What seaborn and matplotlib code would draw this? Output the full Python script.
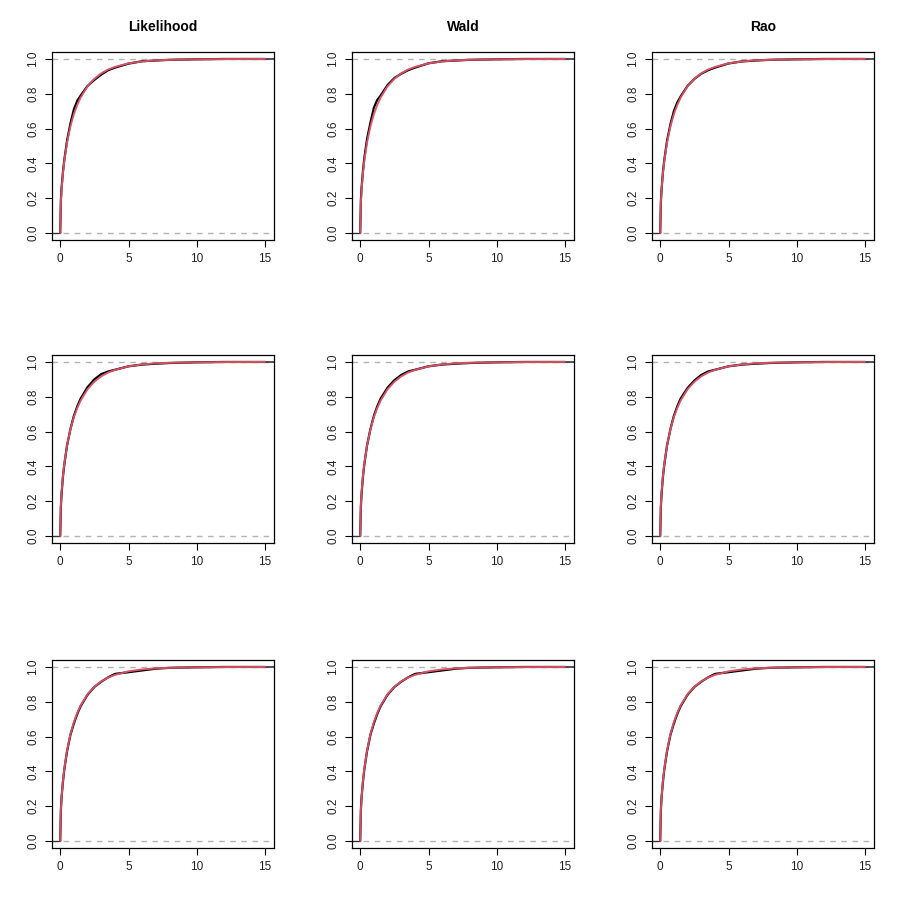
import matplotlib
matplotlib.use("Agg")
import matplotlib.pyplot as plt
import seaborn as sns
import pandas as pd

sns.set_theme(style="white")
plt.rcParams['font.family'] = ['Liberation Sans', 'DejaVu Sans']

titles = ["Likelihood", "Wald", "Rao"]

# theoretical CDF (red)
x_ref = [0, 0.05, 0.1, 0.2, 0.3, 0.5, 0.75, 1, 1.25, 1.5, 2, 2.5, 3, 3.5, 4, 5, 6, 7, 8, 10, 12, 15.0]
y_ref = [0.0, 0.18, 0.25, 0.345, 0.415, 0.52, 0.614, 0.683, 0.736, 0.779, 0.843, 0.886, 0.917, 0.939, 0.954, 0.975, 0.986, 0.992, 0.995, 0.998, 0.9995, 1.0]

x_emp = [0, 0.05, 0.1, 0.2, 0.3, 0.5, 0.75, 1, 1.25, 1.5, 2, 2.5, 3, 3.5, 4, 5, 6, 7, 8, 10, 12, 15.0]
emp = [
    [0, 0.19, 0.26, 0.35, 0.42, 0.53, 0.63, 0.71, 0.76, 0.79, 0.845, 0.88, 0.91, 0.935, 0.95, 0.973, 0.987, 0.991, 0.995, 0.998, 1.0, 1.0],
    [0, 0.19, 0.26, 0.355, 0.43, 0.54, 0.635, 0.72, 0.765, 0.79, 0.85, 0.89, 0.915, 0.935, 0.95, 0.975, 0.987, 0.991, 0.995, 0.998, 1.0, 1.0],
    [0, 0.18, 0.25, 0.35, 0.42, 0.53, 0.625, 0.70, 0.75, 0.785, 0.845, 0.885, 0.915, 0.935, 0.95, 0.974, 0.986, 0.991, 0.995, 0.998, 1.0, 1.0],
    [0, 0.17, 0.24, 0.34, 0.41, 0.52, 0.615, 0.69, 0.745, 0.79, 0.855, 0.90, 0.93, 0.945, 0.955, 0.975, 0.985, 0.99, 0.994, 0.998, 1.0, 1.0],
    [0, 0.17, 0.24, 0.34, 0.41, 0.52, 0.615, 0.69, 0.745, 0.79, 0.852, 0.895, 0.925, 0.945, 0.955, 0.975, 0.985, 0.99, 0.994, 0.998, 1.0, 1.0],
    [0, 0.17, 0.24, 0.34, 0.41, 0.52, 0.615, 0.69, 0.745, 0.79, 0.85, 0.893, 0.925, 0.945, 0.955, 0.975, 0.985, 0.99, 0.994, 0.998, 1.0, 1.0],
    [0, 0.18, 0.25, 0.34, 0.41, 0.515, 0.61, 0.675, 0.73, 0.775, 0.84, 0.885, 0.915, 0.94, 0.96, 0.97, 0.98, 0.99, 0.995, 0.998, 1.0, 1.0],
    [0, 0.18, 0.25, 0.34, 0.41, 0.515, 0.61, 0.675, 0.73, 0.775, 0.84, 0.885, 0.915, 0.94, 0.96, 0.97, 0.98, 0.99, 0.995, 0.998, 1.0, 1.0],
    [0, 0.18, 0.25, 0.34, 0.41, 0.515, 0.61, 0.675, 0.73, 0.775, 0.84, 0.885, 0.915, 0.94, 0.96, 0.97, 0.98, 0.99, 0.995, 0.998, 1.0, 1.0],
]
x_lo, x_hi = -0.6, 15.65

W, H = 900, 913
fig = plt.figure(figsize=(9, 9.13), dpi=100)
col_left = [52, 352, 652]
row_top = [52, 355, 660]
aw, ah = 222, 188

ref_df = pd.DataFrame({"x": x_ref, "y": y_ref})
for r in range(3):
    for c in range(3):
        ax = fig.add_axes([col_left[c] / W, 1 - (row_top[r] + ah) / H, aw / W, ah / H])
        e = emp[r * 3 + c]
        df = pd.DataFrame({"x": x_emp, "y": e})
        ax.axhline(0, color="#B3B3B3", lw=1, ls=(0, (4, 4)), zorder=1)
        ax.axhline(1, color="#B3B3B3", lw=1, ls=(0, (4, 4)), zorder=1)
        # thin outer steps of the ECDF
        ax.plot([x_lo, x_emp[0]], [e[0], e[0]], color="#333333", lw=0.9, zorder=2)
        ax.plot([x_emp[-1], x_hi], [e[-1], e[-1]], color="#333333", lw=1.2, zorder=2)
        sns.lineplot(data=df, x="x", y="y", ax=ax, color="black", lw=1.6, sort=False,
                     estimator=None, zorder=2)
        sns.lineplot(data=ref_df, x="x", y="y", ax=ax, color="#DF536B", lw=1.4, sort=False,
                     estimator=None, zorder=3, alpha=0.95)
        ax.set_xlim(x_lo, x_hi)
        ax.set_ylim(-0.04, 1.04)
        ax.set_xticks([0, 5, 10, 15])
        ax.set_xticklabels(["0", "5", "10", "15"])
        ax.set_yticks([0, 0.2, 0.4, 0.6, 0.8, 1.0])
        ax.set_yticklabels(["0.0", "0.2", "0.4", "0.6", "0.8", "1.0"], rotation=90, va="center")
        ax.set_xlabel("")
        ax.set_ylabel("")
        ax.tick_params(axis="both", direction="out", length=5, width=0.8, color="black",
                       labelsize=8.5, labelcolor="#222222", pad=4, bottom=True, left=True)
        for s in ax.spines.values():
            s.set_color("black")
            s.set_linewidth(0.9)
        if r == 0:
            ax.set_title(titles[c], fontsize=10, fontweight="bold", pad=15, color="black")

fig.savefig("out.png", dpi=100)
